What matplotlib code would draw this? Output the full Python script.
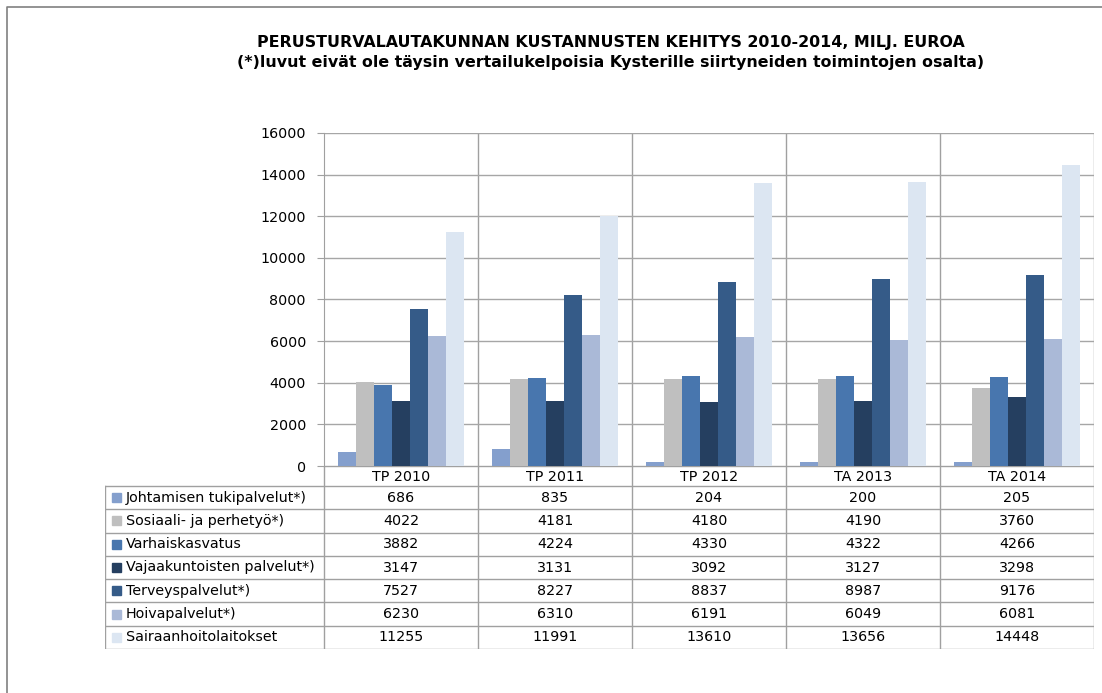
#!/usr/bin/env python3
"""Perusturvalautakunnan kustannusten kehitys 2010-2014 - bar chart with data table."""
import matplotlib
matplotlib.use('Agg')
import matplotlib.pyplot as plt
from matplotlib.lines import Line2D
from matplotlib.patches import Rectangle
import numpy as np

categories = ['TP 2010', 'TP 2011', 'TP 2012', 'TA 2013', 'TA 2014']
series_names = ['Johtamisen tukipalvelut*)', 'Sosiaali- ja perhetyö*)', 'Varhaiskasvatus',
                'Vajaakuntoisten palvelut*)', 'Terveyspalvelut*)', 'Hoivapalvelut*)',
                'Sairaanhoitolaitokset']
johtamisen = [686, 835, 204, 200, 205]
sosiaali = [4022, 4181, 4180, 4190, 3760]
varhais = [3882, 4224, 4330, 4322, 4266]
vajaa = [3147, 3131, 3092, 3127, 3298]
terveys = [7527, 8227, 8837, 8987, 9176]
hoiva = [6230, 6310, 6191, 6049, 6081]
sairaan = [11255, 11991, 13610, 13656, 14448]
series = [johtamisen, sosiaali, varhais, vajaa, terveys, hoiva, sairaan]
colors = ['#849FCD', '#BFBFBF', '#4876AE', '#253F60', '#355B88', '#AAB9D7', '#DCE6F2']

W, H = 1102, 693
fig = plt.figure(figsize=(W / 100, H / 100), dpi=100)
plt.rcParams['font.family'] = ['DejaVu Sans']
FS = 10.3


def fx(px):
    return px / W


def fy(py):
    return 1 - py / H


# outer frame of the chart object
fig.add_artist(Line2D([fx(7), fx(7), 1.0], [0.0, fy(7), fy(7)],
                      transform=fig.transFigure, color='#808080', lw=1.2))

# title
fig.text(fx(611), fy(42), 'PERUSTURVALAUTAKUNNAN KUSTANNUSTEN KEHITYS 2010-2014, MILJ. EUROA',
         ha='center', va='center', fontsize=11.4, fontweight='bold')
fig.text(fx(611), fy(62), '(*)luvut eivät ole täysin vertailukelpoisia Kysterille siirtyneiden toimintojen osalta)',
         ha='center', va='center', fontsize=11.4, fontweight='bold')

# plot area
left, right, top, bottom = 324, 1094, 133, 466
ax = fig.add_axes([fx(left), fy(bottom), fx(right - left), (bottom - top) / H])
n = len(series)
group = 0.818
bw = group / n
x = np.arange(len(categories))
for i, (vals, c) in enumerate(zip(series, colors)):
    ax.bar(x + 0.5 - group / 2 + bw * (i + 0.5), vals, width=bw, color=c, zorder=3)
ax.set_xlim(0, len(categories))
ax.set_ylim(0, 16000)
ax.set_yticks(np.arange(0, 16001, 2000))
ax.set_yticklabels([str(v) for v in range(0, 16001, 2000)], fontsize=FS)
ax.set_xticks([])
ax.grid(axis='y', color='#A6A6A6', lw=1, zorder=0)
for xi in range(1, len(categories) + 1):
    ax.axvline(xi, color='#A0A0A0', lw=1, zorder=1)
for s in ['top', 'right', 'bottom']:
    ax.spines[s].set_visible(False)
ax.spines['left'].set_color('#A0A0A0')
ax.tick_params(axis='y', length=5, color='#A0A0A0', pad=8)

# data table under the plot (pixel rows: header 466-486, then 7 rows of ~23 px)
t_left, t_top, t_bottom = 105, 466, 649
tax = fig.add_axes([fx(t_left), fy(t_bottom), fx(right - t_left), (t_bottom - t_top) / H])
unit = (right - left) / len(categories)
x0 = -(left - t_left) / unit
tax.set_xlim(x0, len(categories))
tax.set_ylim(t_bottom, t_top)
tax.axis('off')
header_h = 20
row_h = (t_bottom - t_top - header_h) / len(series)
row_edges = [t_top + header_h + k * row_h for k in range(len(series) + 1)]
grid_kw = dict(color='#A0A0A0', lw=1)
tax.plot([0, len(categories)], [t_top, t_top], **grid_kw)
for yb in row_edges:
    tax.plot([x0, len(categories)], [yb, yb], **grid_kw)
tax.plot([x0, x0], [row_edges[0], t_bottom], **grid_kw)
for xi in range(0, len(categories) + 1):
    tax.plot([xi, xi], [t_top, t_bottom], **grid_kw)
for j, cat in enumerate(categories):
    tax.text(j + 0.5, t_top + header_h / 2 + 1, cat, ha='center', va='center', fontsize=FS)
sq = 9 / unit
for i, (name, vals, c) in enumerate(zip(series_names, series, colors)):
    yc = row_edges[i] + row_h / 2
    tax.add_patch(Rectangle((x0 + 7 / unit, yc - 4.5), sq, 9, color=c))
    tax.text(x0 + 21 / unit, yc, name, ha='left', va='center', fontsize=FS)
    for j, v in enumerate(vals):
        tax.text(j + 0.5, yc, str(v), ha='center', va='center', fontsize=FS)

plt.savefig('out.png', dpi=100)
